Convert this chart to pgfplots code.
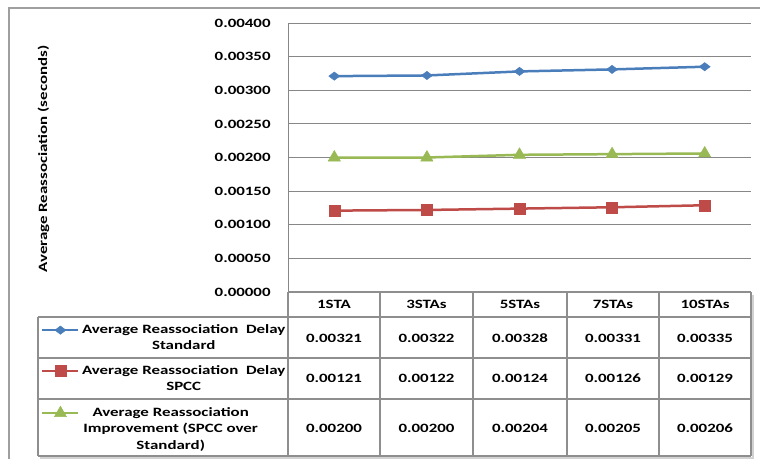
\documentclass[border=0pt]{standalone}
\usepackage{fontspec}
\setmainfont{Carlito}[FakeStretch=1.33]
\usepackage{pgfplots}
\pgfplotsset{compat=1.18}
\definecolor{cblue}{HTML}{4A7EBB}
\definecolor{cred}{HTML}{BE4B48}
\definecolor{cgreen}{HTML}{98B954}
\definecolor{tgray}{HTML}{8E8E8E}
\definecolor{ggray}{HTML}{878787}
\newcommand\tf{\bfseries\fontsize{12.7pt}{16.5pt}\selectfont}
\newcommand\lline[2]{\hbox to #1{\hss #2\hss}}
\begin{document}
\tf
\begin{tikzpicture}
\path[use as bounding box] (0,0) rectangle (760pt,459pt);
\begin{axis}[
  at={(288pt,167pt)}, anchor=south west,
  scale only axis, width=463pt, height=269pt,
  xmin=-0.5, xmax=4.5, ymin=0, ymax=0.004,
  xtick=\empty,
  ytick={0,0.0005,0.001,0.0015,0.002,0.0025,0.003,0.0035,0.004},
  scaled y ticks=false,
  y tick label style={/pgf/number format/fixed, /pgf/number format/fixed zerofill, /pgf/number format/precision=5, /pgf/number format/assume math mode=true},
  yticklabel style={font=\tf, xshift=-13pt},
  ymajorgrids, grid style={ggray, line width=1pt},
  axis lines*=left, axis line style={ggray, line width=1pt, -},
  major tick length=0pt,
  ylabel={Average Reassociation (seconds)},
  ylabel style={at={(axis description cs:-0.528,0.494)}, anchor=center, font=\tf},
  clip=false,
  legend style={at={(axis description cs:-0.5335,-0.119)}, anchor=north west, draw=none, fill=none, inner sep=0pt, row sep=0pt, column sep=3pt, nodes={inner sep=0pt, text depth=}, cells={anchor=base west}, font=\tf},
  legend image code/.code={\draw[mark repeat=2, mark phase=2] plot coordinates {(0pt,3pt)(18pt,3pt)(36pt,3pt)};},
]
\addplot[cblue, line width=2.5pt, mark=diamond*, mark size=5.5pt, mark options={solid, rotate=90, line width=0.5pt}] coordinates {(0,0.00321)(1,0.00322)(2,0.00328)(3,0.00331)(4,0.00335)};
\addplot[cred, line width=2.5pt, mark=square*, mark size=5.5pt, mark options={solid, line width=0.5pt}] coordinates {(0,0.00121)(1,0.00122)(2,0.00124)(3,0.00126)(4,0.00129)};
\addplot[cgreen, line width=2.5pt, mark=triangle*, mark size=7pt, mark options={solid, line width=0.5pt}] coordinates {(0,0.00200)(1,0.00200)(2,0.00204)(3,0.00205)(4,0.00206)};
\legend{\vtop to 41pt{\lline{202pt}{Average Reassociation\ \ Delay}\lline{202pt}{Standard}\vss},
\vtop to 41pt{\lline{202pt}{Average Reassociation\ \ Delay}\lline{202pt}{SPCC}\vss},
\vtop to 50pt{\lline{176pt}{Average Reassociation}\lline{176pt}{Improvement (SPCC over}\lline{176pt}{Standard)}\vss}}
\end{axis}
\begin{scope}[x=1pt,y=-1pt,yshift=459pt]
\draw[line width=1.2pt, color=gray!75] (9,459) -- (9,8) -- (760,8);
\draw[line width=1.4pt, color=gray!35] (753,295) -- (753,458) -- (40,458);
\begin{scope}[line width=1.5pt, color=tgray]
\draw (288,292) -- (751,292);
\foreach \yy in {317,358,399,456} {\draw (38,\yy) -- (751,\yy);}
\draw (38,317) -- (38,456);
\foreach \xx in {288,380,473,567,659,751} {\draw (\xx,292) -- (\xx,456);}
\end{scope}
\foreach \xx/\lab in {334/1STA,426.5/3STAs,520/5STAs,613/7STAs,705/10STAs} {\node at (\xx,304.5) {\lab};}
\foreach \xx/\va/\vb/\vc in {334/0.00321/0.00121/0.00200, 426.5/0.00322/0.00122/0.00200, 520/0.00328/0.00124/0.00204, 613/0.00331/0.00126/0.00205, 705/0.00335/0.00129/0.00206} {
  \node at (\xx,338) {\va};
  \node at (\xx,378.5) {\vb};
  \node at (\xx,428) {\vc};
}
\end{scope}
\end{tikzpicture}
\end{document}
